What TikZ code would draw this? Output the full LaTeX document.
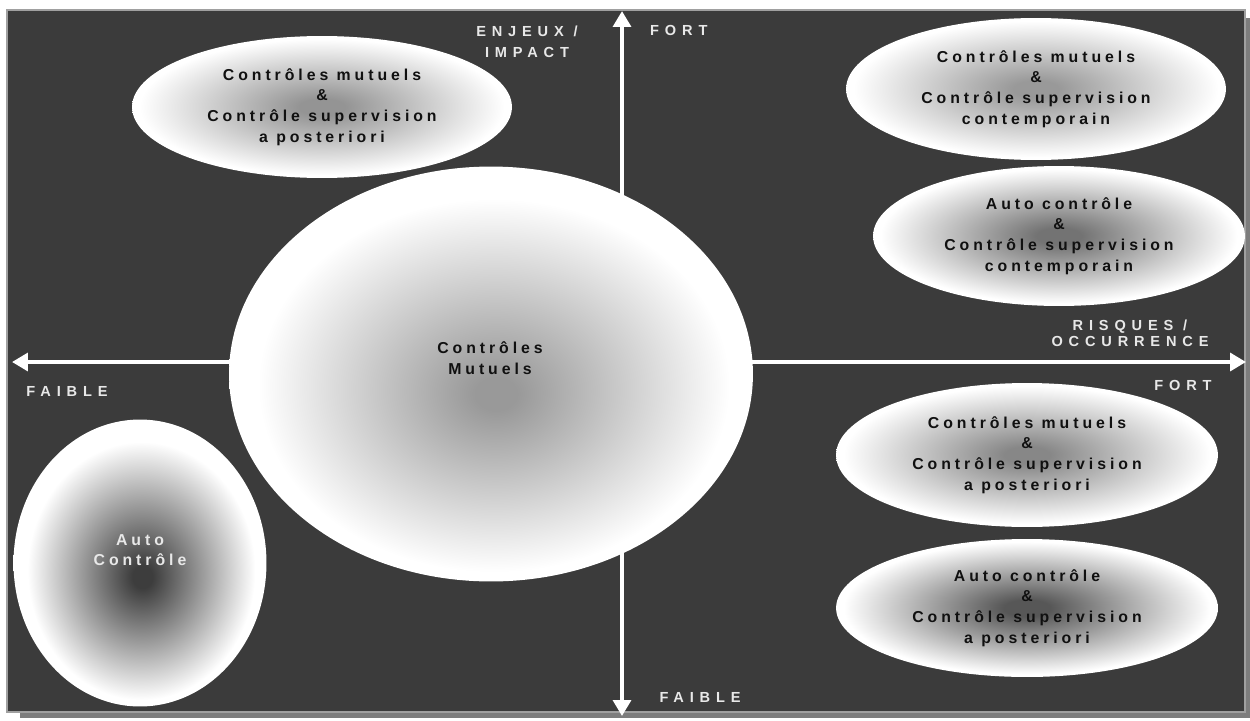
\documentclass[tikz,border=0pt]{standalone}
\usepackage{fontspec}
\setmainfont{Liberation Sans}
\newfontfamily\ellfont{Liberation Sans}[LetterSpace=25]
\newfontfamily\axisfont{Liberation Sans}[LetterSpace=40]
\usetikzlibrary{arrows.meta,positioning,shapes.geometric}
\definecolor{bgdark}{RGB}{59,59,59}
\definecolor{framegray}{RGB}{160,160,160}
\definecolor{shadowgray}{RGB}{125,125,125}
\definecolor{labelgray}{RGB}{232,232,232}
\definecolor{inkdark}{RGB}{16,16,16}
\colorlet{glowin}{gray}
% the path's box is mapped on the inner 50bp square: ellipse edge = 25bp
\pgfdeclareradialshading[glowin]{glow}{\pgfpointorigin}{color(0bp)=(glowin); color(3bp)=(glowin); color(24bp)=(white); color(50bp)=(white)}
\pgfdeclareradialshading[glowin]{glowlow}{\pgfpoint{0.5bp}{-2.5bp}}{color(0bp)=(glowin); color(2bp)=(glowin); color(22.5bp)=(white); color(50bp)=(white)}
\tikzset{
  ell/.style={ellipse, inner sep=0pt, shading=glow, /utils/exec={\colorlet{glowin}{#1}}},
  elltext/.style={align=center, text=inkdark, font={\ellfont\bfseries\fontsize{9pt}{11.8pt}\selectfont}},
  axislabel/.style={align=center, text=labelgray, font={\axisfont\bfseries\fontsize{8.3pt}{12pt}\selectfont}},
  axisline/.style={draw=white, line width=2.3pt, {Triangle[width=10pt,length=9pt]}-{Triangle[width=10pt,length=9pt]}}
}

\begin{document}
\begin{tikzpicture}[x=0.02cm,y=-0.02cm]
  \useasboundingbox (0,0) rectangle (1250,720);
  % frame
  \fill[shadowgray] (20,18) rectangle (1250,718);
  \filldraw[fill=bgdark, draw=framegray, line width=1pt] (7,10) rectangle (1245,712);
  % axes
  \coordinate (top) at (622,11); \coordinate (bot) at (622,716);
  \coordinate (west) at (12,362); \coordinate (east) at (1246,362);
  \draw[axisline] (bot) -- (top);
  \draw[axisline] (west) -- (east);
  \node[axislabel] (enjeux) at (527,42) {ENJEUX /\\IMPACT};
  \node[axislabel, anchor=west] (forttop) at (644,30) {FORT};
  \node[axislabel] (risques) at (1130,333) {RISQUES /\\[-3pt]OCCURRENCE};
  \node[axislabel] (fortright) at (1183,385) {FORT};
  \node[axislabel] (faibleleft) at (67,391) {FAIBLE};
  \node[axislabel] (faiblebot) at (700,697) {FAIBLE};
  % control zones
  \foreach \name/\x/\y/\rx/\ry/\core/\txt in {
    mutpost/322/107/190/71/black!42/{Contrôles mutuels\\\&\\Contrôle supervision\\a posteriori},
    mutcont/1036/89/190/71/black!40/{Contrôles mutuels\\\&\\Contrôle supervision\\contemporain},
    autocont/1059/236/186/70/black!55/{Auto contrôle\\\&\\Contrôle supervision\\contemporain},
    mutpostb/1027/455/191/72/black!47/{Contrôles mutuels\\\&\\Contrôle supervision\\a posteriori},
    autopost/1027/608/191/69/black!66/{Auto contrôle\\\&\\Contrôle supervision\\a posteriori}}
  {
    \node[ell=\core, minimum width=\rx*0.04cm, minimum height=\ry*0.04cm] (\name) at (\x,\y) {};
    \node[elltext] (\name txt) at (\name) {\txt};
  }
  \node[ell=black!40, shading=glowlow, minimum width=10.48cm, minimum height=8.3cm] (mutuels) at (491,374) {};
  \node[elltext] (mutuelstxt) at (490,358) {Contrôles\\Mutuels};
  \node[ell=black!76, shading=glowlow, minimum width=5.06cm, minimum height=5.74cm] (auto) at (140,563) {};
  \node[elltext, text=labelgray] (autotxt) at (140,550) {Auto\\Contrôle};
\end{tikzpicture}
\end{document}
